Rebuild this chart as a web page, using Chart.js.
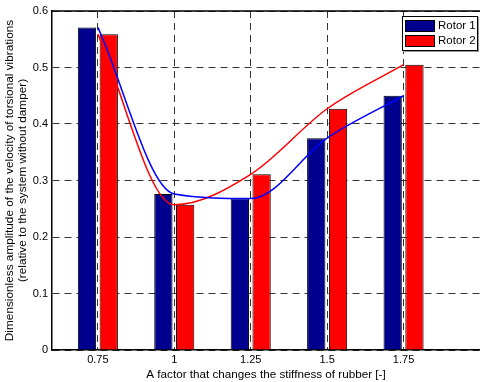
<!DOCTYPE html>
<html><head><meta charset="utf-8">
<script src="https://cdn.jsdelivr.net/npm/chart.js@4"></script>
<style>
html,body{margin:0;padding:0;background:#fff;}
#wrap{position:relative;width:480px;height:382px;overflow:hidden;}
canvas{display:block;}
#legend{position:absolute;left:402px;top:16px;width:74px;height:33px;border:1px solid #000;background:#fff;font:11.5px "Liberation Sans",Arial,sans-serif;color:#000;box-shadow:1px 1px 0 #999;}
.item{position:absolute;left:2px;height:12px;line-height:12px;width:72px;}
.sw{position:absolute;left:0;top:0;width:28px;height:10px;border:1px solid #000;}
.lb{position:absolute;left:33px;top:-1px;white-space:nowrap;}
</style></head><body>
<div id="wrap"><canvas id="c" width="480" height="382"></canvas><div id="legend"></div></div>
<script>
const categories = [0.75, 1, 1.25, 1.5, 1.75];
const xTickLabels = ['0.75', '1', '1.25', '1.5', '1.75'];
const rotor1 = [0.571, 0.276, 0.268, 0.375, 0.450];
const rotor2 = [0.559, 0.257, 0.311, 0.427, 0.505];
const seriesNames = ['Rotor 1', 'Rotor 2'];
const yTicks = [0, 0.1, 0.2, 0.3, 0.4, 0.5, 0.6];
const yTickLabels = ['0', '0.1', '0.2', '0.3', '0.4', '0.5', '0.6'];
const xTitle = 'A factor that changes the stiffness of rubber [-]';
const yTitle = ['Dimensionless amplitude of the velocity of torsional vibrations', '(relative to the system without damper)'];

const FONT = '"Liberation Sans", Arial, Helvetica, sans-serif';
Chart.defaults.font.family = FONT;
Chart.defaults.font.size = 11;
Chart.defaults.color = '#000';

const pts = arr => categories.map((x, i) => ({x: x, y: arr[i]}));

const frame = {
  id: 'frame',
  afterDraw(chart) {
    const {ctx, chartArea: a} = chart;
    ctx.save();
    ctx.strokeStyle = '#000';
    ctx.lineWidth = 1.5;
    ctx.beginPath();
    ctx.moveTo(a.left, a.top);
    ctx.lineTo(a.right, a.top);
    ctx.stroke();
    ctx.restore();
  }
};

const chart = new Chart(document.getElementById('c'), {
  type: 'bar',
  data: {
    datasets: [
      {type: 'line', label: seriesNames[0] + ' curve', data: pts(rotor1), borderColor: '#0000ff', borderWidth: 1.5,
       pointRadius: 0, fill: false, cubicInterpolationMode: 'monotone', order: 0},
      {type: 'line', label: seriesNames[1] + ' curve', data: pts(rotor2), borderColor: '#ff0000', borderWidth: 1.5,
       pointRadius: 0, fill: false, cubicInterpolationMode: 'monotone', order: 0},
      {type: 'bar', label: seriesNames[0], data: pts(rotor1), backgroundColor: '#00008f', borderColor: '#000',
       borderWidth: 1, categoryPercentage: 0.57, barPercentage: 0.84, order: 1},
      {type: 'bar', label: seriesNames[1], data: pts(rotor2), backgroundColor: '#ff0000', borderColor: '#000',
       borderWidth: 1, categoryPercentage: 0.57, barPercentage: 0.84, order: 1}
    ]
  },
  options: {
    responsive: false,
    animation: false,
    layout: {padding: {top: 11, right: 0, left: 0, bottom: 0}},
    plugins: {legend: {display: false}, tooltip: {enabled: false}},
    scales: {
      x: {
        type: 'linear', min: 0.6, max: 2.0, offset: false,
        afterBuildTicks: s => { s.ticks = categories.map(v => ({value: v})); },
        afterFit: s => { s.height = 32; },
        ticks: {callback: (v, i) => xTickLabels[i], padding: 3, maxRotation: 0, autoSkip: false, font: {size: 11}},
        grid: {color: '#333', lineWidth: 1, drawTicks: false, offset: false},
        border: {display: true, color: '#000', width: 1.5, dash: [7, 5]},
        title: {display: true, text: xTitle, font: {size: 11.7}, padding: {top: 0, bottom: 0}}
      },
      y: {
        min: 0, max: 0.6,
        afterBuildTicks: s => { s.ticks = yTicks.map(v => ({value: v})); },
        afterFit: s => { s.width = 52; },
        ticks: {callback: (v, i) => yTickLabels[i], padding: 4, font: {size: 11}},
        grid: {color: '#333', lineWidth: 1, drawTicks: false},
        border: {display: true, color: '#000', width: 1.5, dash: [7, 5]},
        title: {display: true, text: yTitle, font: {size: 11.8, lineHeight: 1.05}, padding: {top: 4, bottom: 2}}
      }
    }
  },
  plugins: [frame]
});

const legend = document.getElementById('legend');
chart.data.datasets.filter(d => d.type === 'bar').forEach((d, i) => {
  const it = document.createElement('div');
  it.className = 'item';
  it.style.top = (3 + i * 15) + 'px';
  const sw = document.createElement('span');
  sw.className = 'sw';
  sw.style.background = d.backgroundColor;
  const lb = document.createElement('span');
  lb.className = 'lb';
  lb.textContent = d.label;
  it.appendChild(sw); it.appendChild(lb);
  legend.appendChild(it);
});
</script>
</body></html>
